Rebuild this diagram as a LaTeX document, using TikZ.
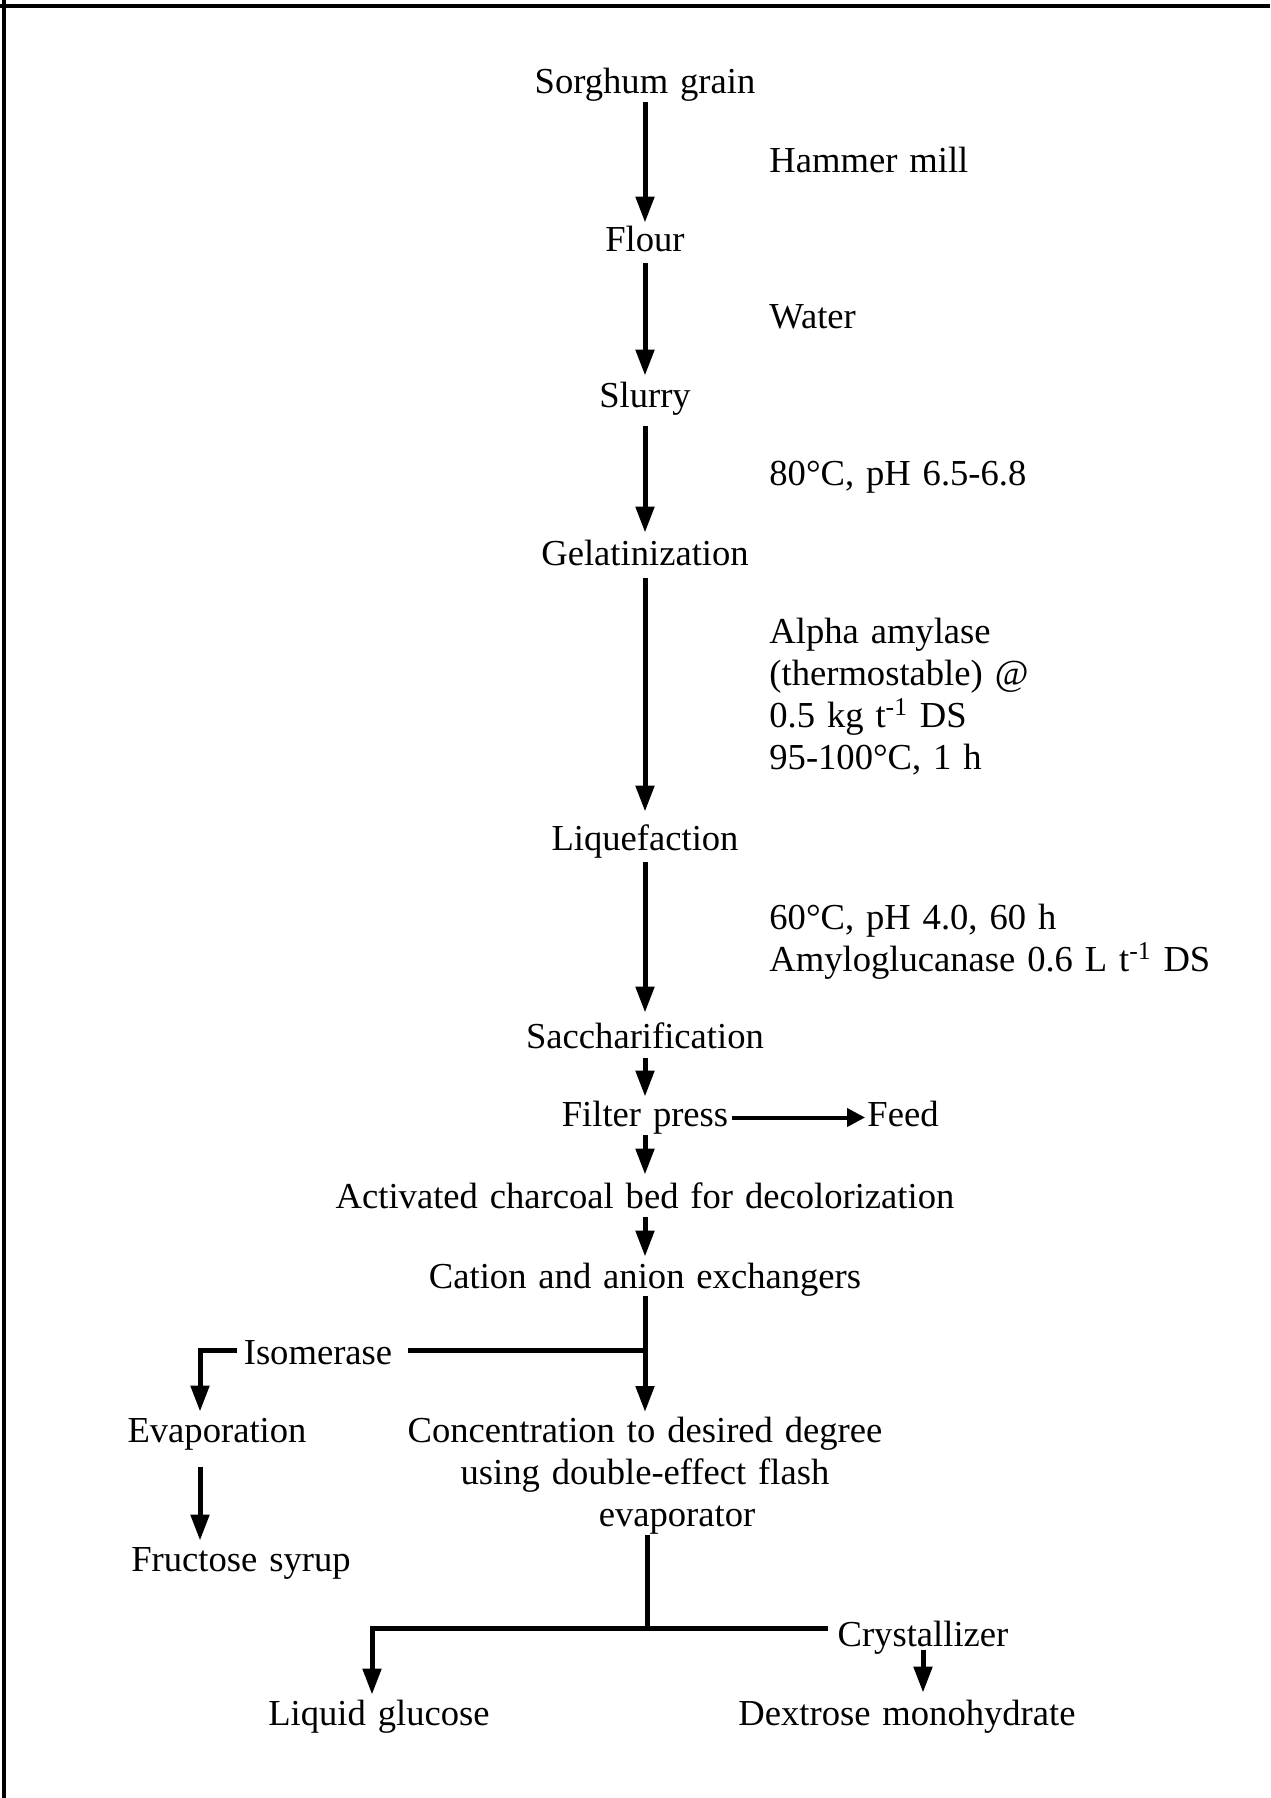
\documentclass[tikz,border=0pt]{standalone}
\usepackage{fontspec}
\setmainfont{Liberation Serif}[WordSpace=1.3]
\usetikzlibrary{arrows.meta,calc}
\newcommand{\mainfs}{\fontsize{18.3pt}{21pt}\selectfont}
\tikzset{
  lbl/.style={inner sep=0pt, text height=12.5pt, text depth=4pt, font=\mainfs, anchor=base},
  side/.style={inner sep=0pt, anchor=base west, font=\mainfs},
  sideblock/.style={inner sep=0pt, anchor=north west, align=left, font=\mainfs},
  conn/.style={line width=2.5pt},
  flow/.style={line width=2.5pt, -{Triangle[width=9pt,length=13pt]}},
  flowthin/.style={line width=2pt, -{Triangle[width=9pt,length=9pt]}, shorten <=1.5pt, shorten >=1pt},
}
\begin{document}
\begin{tikzpicture}[x=0.5pt,y=-0.5pt]
\useasboundingbox (0,0) rectangle (1270,1798);
% frame (top and left edges only)
\draw[line width=2pt] (0,6) -- (1270,6);
\draw[line width=2pt] (4,0) -- (4,1798);

% main column
\node[lbl] (sg) at (645,94) {Sorghum grain};
\node[lbl] (fl) at (645,251) {Flour};
\node[lbl] (sl) at (645,407) {Slurry};
\node[lbl] (ge) at (645,565) {Gelatinization};
\node[lbl] (lq) at (645,850) {Liquefaction};
\node[lbl] (sa) at (645,1048) {Saccharification};
\node[lbl] (fp) at (645,1126) {Filter press};
\node[lbl] (fd) at (903,1126) {Feed};
\node[lbl] (ac) at (645,1208) {Activated charcoal bed for decolorization};
\node[lbl] (ca) at (645,1288) {Cation and anion exchangers};
\node[lbl] (iso) at (318,1364) {Isomerase};
\node[lbl] (ev) at (217,1442) {Evaporation};
\node[lbl] (fs) at (241,1571) {Fructose syrup};
\node[inner sep=0pt, anchor=north, align=center, font=\mainfs] (conc) at (645,1417)
  {Concentration to desired degree\\using double-effect flash\\\hspace*{32pt}evaporator};
\node[lbl] (cr) at (923,1646) {Crystallizer};
\node[lbl] (lg) at (379,1725) {Liquid glucose};
\node[lbl] (dm) at (907,1725) {Dextrose monohydrate};

% side labels
\node[side] (hm) at (769,172) {Hammer mill};
\node[side] (wa) at (769,328) {Water};
\node[side] (t80) at (769,485) {80°C, pH 6.5-6.8};
\node[sideblock] (aa) at (769,618) {Alpha amylase\\(thermostable) @\\0.5 kg t\textsuperscript{-1} DS\\95-100°C, 1 h};
\node[sideblock] (t60) at (769,904) {60°C, pH 4.0, 60 h\\Amyloglucanase 0.6 L t\textsuperscript{-1} DS};

% connectors
\draw[flow] (sg.south) -- ($(fl.north)+(0,-3)$);
\draw[flow] ($(fl.south)+(0,4)$) -- ($(sl.north)+(0,-6)$);
\draw[flow] ($(sl.south)+(0,11)$) -- ($(ge.north)+(0,-7)$);
\draw[flow] ($(ge.south)+(0,5)$) -- ($(lq.north)+(0,-13)$);
\draw[flow] ($(lq.south)+(0,4)$) -- ($(sa.north)+(0,-10)$);
\draw[flow] ($(sa.south)+(0,2)$) -- ($(fp.north)+(0,-4)$);
\draw[flowthin] (fp) -- (fd);
\draw[flow] ($(fp.south)+(0,1)$) -- ($(ac.north)+(0,-8)$);
\draw[flow] ($(ac.south)+(0,1)$) -- ($(ca.north)+(0,-6)$);

\coordinate (j1) at (645,1350);
\coordinate (c1) at (200,1350);
\coordinate (j2) at (647,1628);
\coordinate (c2) at (372,1628);

\draw[flow] (ca.south) -- ($(conc.north)+(0,-5)$);
\draw[conn] ($(iso.east |- j1)+(15,0)$) -- (j1);
\draw[flow] ($(iso.west |- c1)+(-6,0)$) -- (c1) -- ($(c1 |- ev.north)+(0,-5)$);
\draw[flow] ($(c1 |- ev.south)+(0,17)$) -- ($(c1 |- fs.north)+(0,-5)$);
\draw[conn] (conc.south -| j2) -- (j2);
\draw[flow] ($(cr.west |- j2)+(-9,0)$) -- (c2) -- ($(c2 |- lg.north)+(0,-5)$);
\draw[flow] ($(cr.south)+(0,-4)$) -- ($(cr.south |- dm.north)+(0,-7)$);
\end{tikzpicture}
\end{document}
